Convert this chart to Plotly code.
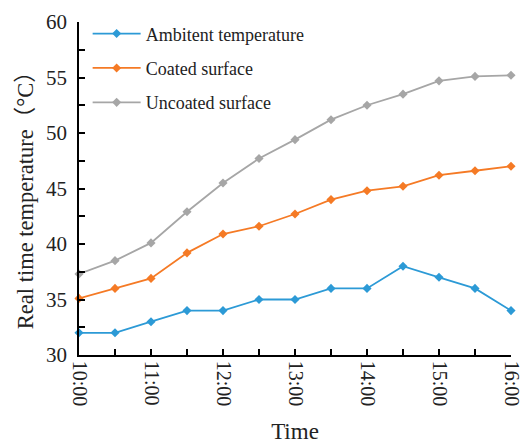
import plotly.graph_objects as go

times = ["10:00", "10:30", "11:00", "11:30", "12:00", "12:30", "13:00",
         "13:30", "14:00", "14:30", "15:00", "15:30", "16:00"]
ambient = [32, 32, 33, 34, 34, 35, 35, 36, 36, 38, 37, 36, 34]
coated = [35.1, 36.0, 36.9, 39.2, 40.9, 41.6, 42.7, 44.0, 44.8, 45.2, 46.2, 46.6, 47.0]
uncoated = [37.3, 38.5, 40.1, 42.9, 45.5, 47.7, 49.4, 51.2, 52.5, 53.5, 54.7, 55.1, 55.2]
hour_labels = ["10:00", "11:00", "12:00", "13:00", "14:00", "15:00", "16:00"]

series_names = ["Ambitent temperature", "Coated surface", "Uncoated surface"]
colors = ["#2C9AD6", "#F57A25", "#A6A6A6"]


def to_hours(t):
    h, m = t.split(":")
    return int(h) + int(m) / 60


x = [to_hours(t) for t in times]
hour_vals = [to_hours(t) for t in hour_labels]

fig = go.Figure()
for i, (name, vals) in enumerate(zip(series_names, [ambient, coated, uncoated])):
    fig.add_trace(go.Scatter(
        x=x, y=vals, name=name, mode="lines+markers",
        line=dict(color=colors[i], width=1.8),
        marker=dict(symbol="diamond", size=7, color=colors[i]),
        cliponaxis=False, legendgroup=str(i),
    ))

font = "Liberation Serif, Times New Roman, Noto Sans CJK SC, serif"
fig.update_layout(
    width=521, height=445,
    margin=dict(l=79, r=10, t=22, b=90),
    paper_bgcolor="white", plot_bgcolor="white",
    font=dict(family=font, color="#222222", size=20),
    showlegend=True,
    legend=dict(x=0.02, y=1.02, xanchor="left", yanchor="top",
                bgcolor="rgba(0,0,0,0)", font=dict(size=18, family=font),
                itemwidth=48, tracegroupgap=8),
    xaxis=dict(
        range=[hour_vals[0], hour_vals[-1]],
        tickvals=hour_vals, ticktext=hour_labels,
        tickangle=90, automargin=False, ticklabeloverflow="allow",
        showline=True, linecolor="black", linewidth=1.5,
        ticks="inside", ticklen=6, tickcolor="black", tickwidth=1.5,
        minor=dict(dtick=0.5, tick0=10, ticks="inside", ticklen=6, tickcolor="black", tickwidth=1.5),
        showgrid=False, zeroline=False,
        tickfont=dict(size=20, family=font),
        title=dict(text="Time", font=dict(size=23, family=font), standoff=18),
    ),
    yaxis=dict(
        range=[30, 60], dtick=5, tick0=30, automargin=False,
        showline=True, linecolor="black", linewidth=1.5,
        ticks="inside", ticklen=6, tickcolor="black", tickwidth=1.5,
        minor=dict(dtick=2.5, ticks="inside", ticklen=6, tickcolor="black", tickwidth=1.5),
        showgrid=False, zeroline=False,
        tickfont=dict(size=21, family=font),
        ticklabelstandoff=6,
    ),
    annotations=[dict(
        text="Real time temperature（°C）", textangle=-90,
        xref="paper", yref="paper", x=0, y=0.48, xshift=-54,
        xanchor="center", yanchor="middle", showarrow=False,
        font=dict(size=22.5, family=font, color="#222222"),
    )],
)

fig.write_html("out.html", config={"displayModeBar": False},
               post_script="document.body.style.margin='0';")
